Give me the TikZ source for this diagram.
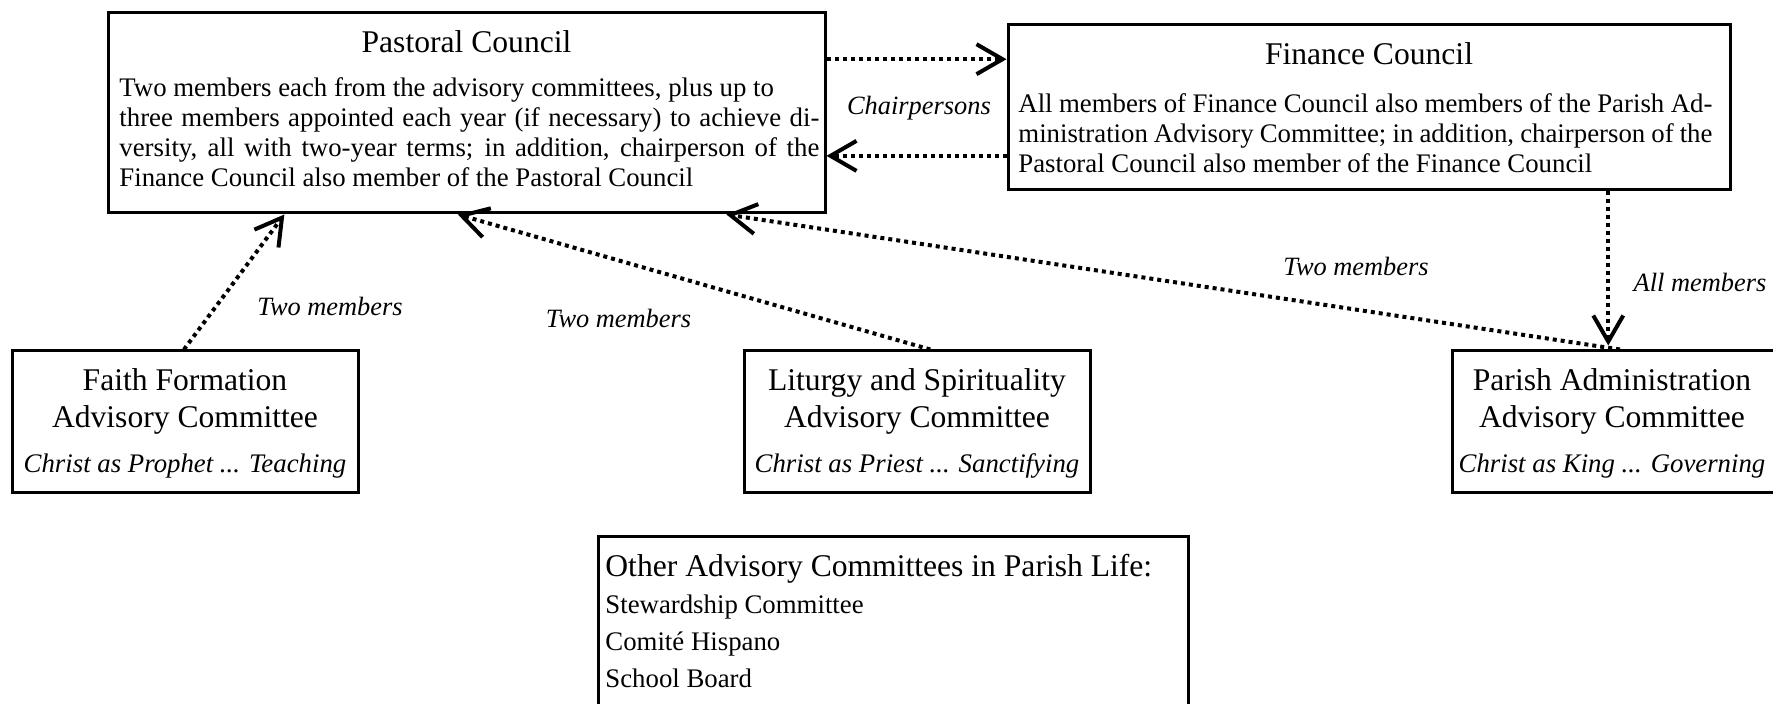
\documentclass[tikz,border=0pt]{standalone}
\usepackage{fontspec}
\setmainfont{Liberation Serif}
\usetikzlibrary{arrows.meta,calc}
\begin{document}
\begin{tikzpicture}[x=0.5pt,y=-0.5pt,
  boxnode/.style={draw, line width=1.5pt, inner sep=0pt, rectangle},
  ttl/.style={font=\fontsize{15.8pt}{18.5pt}\selectfont, inner sep=0pt, anchor=base},
  subt/.style={font=\fontsize{13.4pt}{15pt}\selectfont\itshape, inner sep=0pt, anchor=base},
  lbl/.style={font=\fontsize{13.2pt}{15pt}\selectfont\itshape, inner sep=0pt},
  item/.style={font=\fontsize{13.4pt}{15pt}\selectfont, inner sep=0pt, anchor=base west},
  bodytext/.style={font=\fontsize{13.4pt}{15pt}\selectfont, inner sep=0pt, anchor=north west, align=justify, text width=#1},
  link/.style={line width=2pt, dash pattern=on 2pt off 2pt, -{Straight Barb[length=13pt,width=15pt,line width=2pt]}}
]
\useasboundingbox (0,0) rectangle (1773,704);
\fill[white] (0,0) rectangle (1773,704);
\clip (0,0) rectangle (1773,704);

% boxes
\node[boxnode, minimum width=358.5pt, minimum height=100pt] (pc) at (466.5,113) {};
\node[boxnode, minimum width=361pt, minimum height=82.5pt] (fc) at (1369,107.5) {};
\node[boxnode, minimum width=173pt, minimum height=71pt] (ff) at (185,422) {};
\node[boxnode, minimum width=173pt, minimum height=71pt] (ls) at (917,422) {};
\node[boxnode, minimum width=164pt, minimum height=71pt] (pa) at (1616,422) {};
\node[boxnode, minimum width=295pt, minimum height=125pt, anchor=north west] (oc) at (597,535) {};

% Pastoral Council text
\node[ttl] (pct) at (466.5,52.5) {Pastoral Council};
\node[bodytext=350pt] (pcb) at (119,77) {Two members each from the advisory committees, plus up to\\ three members appointed each year (if necessary) to achieve di-\linebreak versity, all with two-year terms; in addition, chairperson of the\linebreak Finance Council also member of the Pastoral Council};

% Finance Council text
\node[ttl] (fct) at (1369,64.5) {Finance Council};
\node[bodytext=347pt] (fcb) at (1018,93) {All members of Finance Council also members of the Parish Ad-\linebreak ministration Advisory Committee; in addition, chairperson of the\linebreak Pastoral Council also member of the Finance Council};

% Faith Formation
\node[ttl] (fft1) at (185,390.5) {Faith Formation};
\node[ttl] (fft2) at (185,427.5) {Advisory Committee};
\node[subt] (ffs) at (185,473) {Christ as Prophet ... Teaching};

% Liturgy
\node[ttl] (lst1) at (917,390.5) {Liturgy and Spirituality};
\node[ttl] (lst2) at (917,427.5) {Advisory Committee};
\node[subt] (lss) at (917,473) {Christ as Priest ... Sanctifying};

% Parish Administration
\node[ttl] (pat1) at (1612,390.5) {Parish Administration};
\node[ttl] (pat2) at (1612,427.5) {Advisory Committee};
\node[subt] (pas) at (1612,473) {Christ as King ... Governing};

% Other committees
\node[ttl, anchor=base west] (oct) at (605,577) {Other Advisory Committees in Parish Life:};
\node[item] (oc1) at (605,614) {Stewardship Committee};
\node[item] (oc2) at (605,651) {Comité Hispano};
\node[item] (oc3) at (605,688) {School Board};

% connectors
\coordinate (p1) at ($(pc.north east)!0.235!(pc.south east)$);
\draw[link] (p1) -- (p1 -| fc.west);
\coordinate (f1) at ($(fc.north west)!0.788!(fc.south west)$);
\draw[link] (f1) -- (f1 -| pc.east);
\coordinate (f2) at ($(fc.south west)!0.83!(fc.south east)$);
\draw[link, shorten >=2pt] (f2) -- (f2 |- pa.north);

\coordinate (a1) at ($(ff.north west)!0.497!(ff.north east)$);
\coordinate (a2) at ($(pc.south west)!0.247!(pc.south east)$);
\draw[link] (a1) -- (a2);
\coordinate (b1) at ($(ls.north west)!0.538!(ls.north east)$);
\coordinate (b2) at ($(pc.south west)!0.488!(pc.south east)$);
\draw[link] (b1) -- (b2);
\coordinate (c1) at ($(pa.north west)!0.512!(pa.north east)$);
\coordinate (c2) at ($(pc.south west)!0.861!(pc.south east)$);
\draw[link] (c1) -- (c2);

% labels
\node[lbl] (l0) at (919,108) {Chairpersons};
\node[lbl] (l1) at (330,306) {Two members};
\node[lbl] (l2) at (618.5,318) {Two members};
\node[lbl] (l3) at (1356,266) {Two members};
\node[lbl] (l4) at (1700,282) {All members};
\end{tikzpicture}
\end{document}
